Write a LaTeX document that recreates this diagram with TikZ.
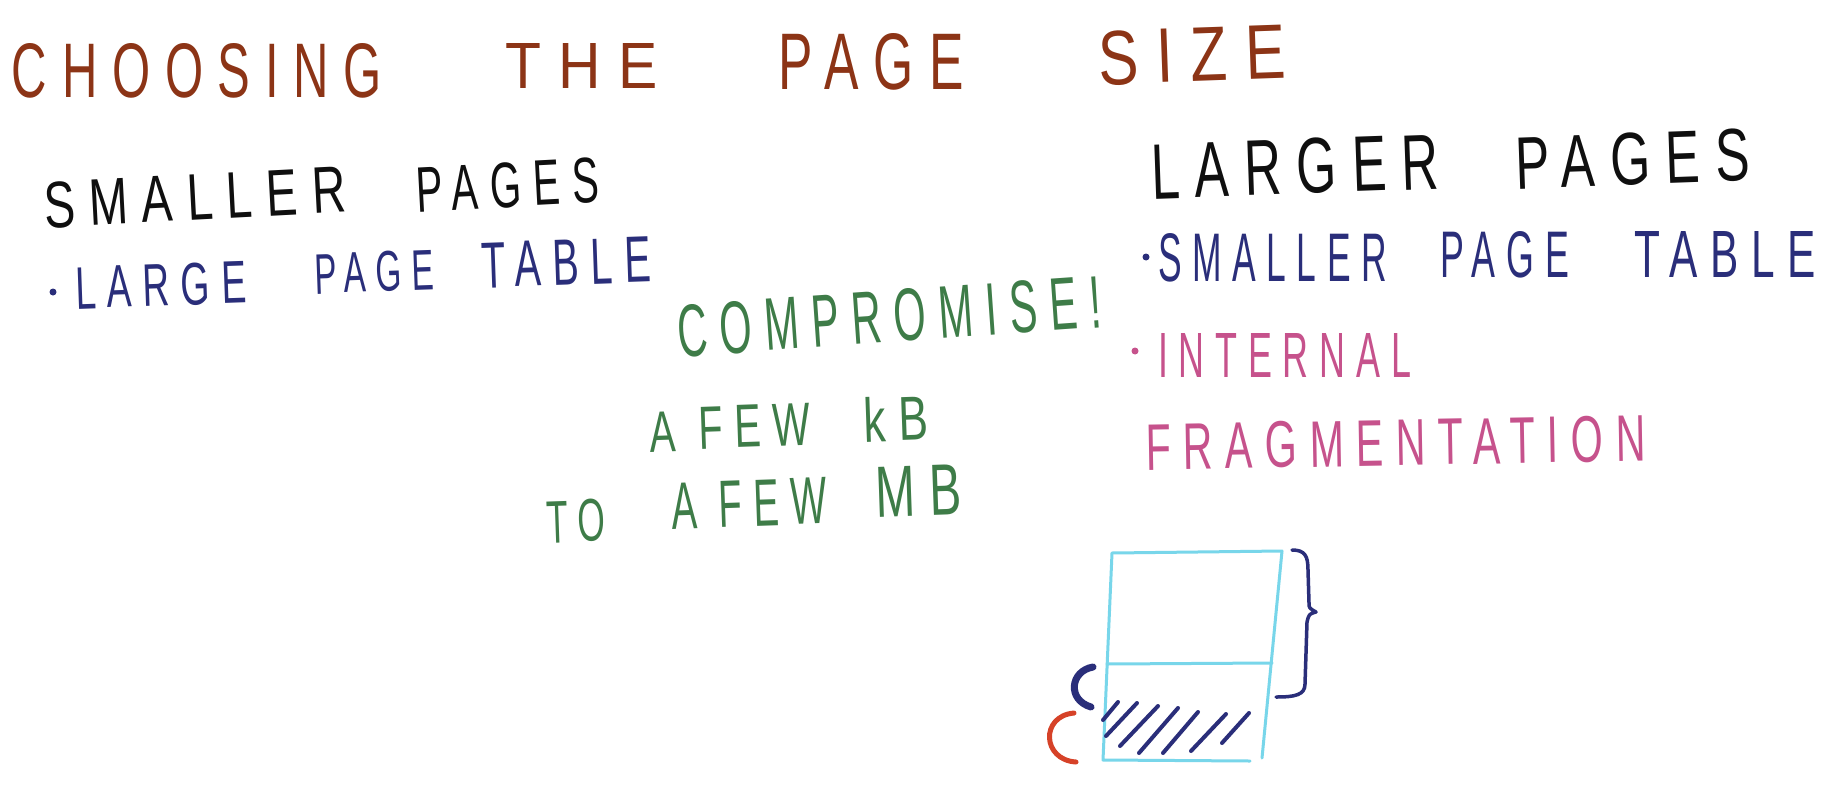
\documentclass[tikz,border=0pt]{standalone}
\usepackage{fontspec}
\setmainfont{Liberation Sans}
\newfontfamily\handfont[LetterSpace=30]{Liberation Sans}
\usepackage{graphicx}
% a word stretched to a given width and cap height (in pt)
\newcommand\hw[3]{\resizebox{#1pt}{#2pt}{\handfont #3}}
\definecolor{titlebrown}{RGB}{140,52,22}
\definecolor{inknavy}{RGB}{42,46,122}
\definecolor{inkgreen}{RGB}{62,124,72}
\definecolor{inkpink}{RGB}{198,82,140}
\definecolor{inkred}{RGB}{214,66,40}
\definecolor{inkcyan}{RGB}{120,214,234}
\definecolor{inkblack}{RGB}{15,15,15}
\tikzset{
  word/.style={anchor=base west, inner sep=0pt, outer sep=0pt},
  bulletdot/.style={circle, inner sep=0pt, minimum size=7pt},
  pageline/.style={draw=inkcyan, line width=3pt, line join=round, line cap=round},
  hatchline/.style={draw=inknavy, line width=4pt, line cap=round},
}
\begin{document}
\begin{tikzpicture}[x=1pt, y=-1pt]
\fill[white] (0,0) rectangle (1843,798);
\useasboundingbox (0,0) rectangle (1843,798);

% title
\begin{scope}[text=titlebrown]
\node[word] (t1) at (12,97)   {\hw{370}{54}{CHOOSING}};
\node[word] (t2) at (505,88)  {\hw{153}{45}{THE}};
\node[word] (t3) at (778,89)  {\hw{186}{56}{PAGE}};
\node[word, rotate=2] (t4) at (1099,85) {\hw{188}{54}{SIZE}};
\end{scope}

% left column
\begin{scope}[text=inkblack]
\node[word, rotate=3] (s1) at (45,228)  {\hw{302}{46}{SMALLER}};
\node[word, rotate=3] (s2) at (417,212) {\hw{183}{45}{PAGES}};
\end{scope}
\node[bulletdot, fill=inknavy] (b1) at (53,292) {};
\begin{scope}[text=inknavy]
\node[word, rotate=2] (l1) at (76,309)  {\hw{171}{42}{LARGE}};
\node[word, rotate=2] (l2) at (315,294) {\hw{120}{40}{PAGE}};
\node[word, rotate=2] (l3) at (482,288) {\hw{170}{45}{TABLE}};
\end{scope}

% middle
\begin{scope}[text=inkgreen]
\node[word, rotate=4] (c1) at (679,357) {\hw{425}{52}{COMPROMISE!}};
\node[word, rotate=2] (f1) at (650,452) {\hw{26}{40}{A}};
\node[word, rotate=2] (f2) at (699,449) {\hw{112}{42}{FEW}};
\node[word, rotate=2] (f3) at (864,442) {\hw{65}{45}{kB}};
\node[word, rotate=2] (m1) at (547,543) {\hw{59}{42}{TO}};
\node[word, rotate=2] (m2) at (672,529) {\hw{156}{46}{A FEW}};
\node[word, rotate=2] (m3) at (876,517) {\hw{86}{50}{MB}};
\end{scope}

% right column
\begin{scope}[text=inkblack]
\node[word, rotate=2] (r1) at (1152,199) {\hw{288}{55}{LARGER}};
\node[word, rotate=2] (r2) at (1516,189) {\hw{235}{52}{PAGES}};
\end{scope}
\node[bulletdot, fill=inknavy] (b2) at (1146,257) {};
\begin{scope}[text=inknavy]
\node[word] (n1) at (1158,281) {\hw{229}{48}{SMALLER}};
\node[word] (n2) at (1440,277) {\hw{129}{46}{PAGE}};
\node[word] (n3) at (1634,277) {\hw{182}{46}{TABLE}};
\end{scope}
\node[bulletdot, fill=inkpink] (b3) at (1135,351) {};
\begin{scope}[text=inkpink]
\node[word] (i1) at (1158,377) {\hw{253}{44}{INTERNAL}};
\node[word, rotate=1] (i2) at (1146,470) {\hw{500}{46}{FRAGMENTATION}};
\end{scope}

% a large page, split in two, the lower half partly filled
\coordinate (tl) at (1112,553);
\coordinate (tr) at (1282,551);
\coordinate (ml) at (1107,664);
\coordinate (mr) at (1272,663);
\coordinate (bl) at (1103,760);
\coordinate (br) at (1262,758);
\coordinate (be) at (1250,761);
\draw[pageline] (tl) -- (tr) -- (br);
\draw[pageline] (tl) -- (bl) -- (be);
\draw[pageline] (ml) -- (mr);

% used part of the page
\draw[hatchline] (1103,720) -- (1118,702);
\draw[hatchline] (1106,736) -- (1137,703);
\draw[hatchline] (1120,746) -- (1158,706);
\draw[hatchline] (1139,753) -- (1178,708);
\draw[hatchline] (1163,753) -- (1198,712);
\draw[hatchline] (1191,751) -- (1226,714);
\draw[hatchline] (1222,743) -- (1249,713);

% brace over the whole page
\coordinate (bt) at (1292,550);
\coordinate (bb) at (1276,697);
\draw[inknavy, line width=3.5pt, line cap=round, line join=round]
  (bt) .. controls (1305,550) and (1308,556) .. (1308,570)
  -- (1309,603) .. controls (1309,608) .. (1316,612)
  .. controls (1309,614) .. (1307,622)
  -- (1305,684) .. controls (1305,695) and (1295,697) .. (bb);

% small arcs marking the used and the unused part
\coordinate (na) at (1093,667);
\coordinate (nb) at (1091,707);
\draw[inknavy, line width=7pt, line cap=round]
  (na) .. controls (1070,671) and (1067,700) .. (nb);
\coordinate (ra) at (1074,713);
\coordinate (rb) at (1076,762);
\draw[inkred, line width=5pt, line cap=round]
  (ra) .. controls (1040,716) and (1042,760) .. (rb);
\end{tikzpicture}
\end{document}
